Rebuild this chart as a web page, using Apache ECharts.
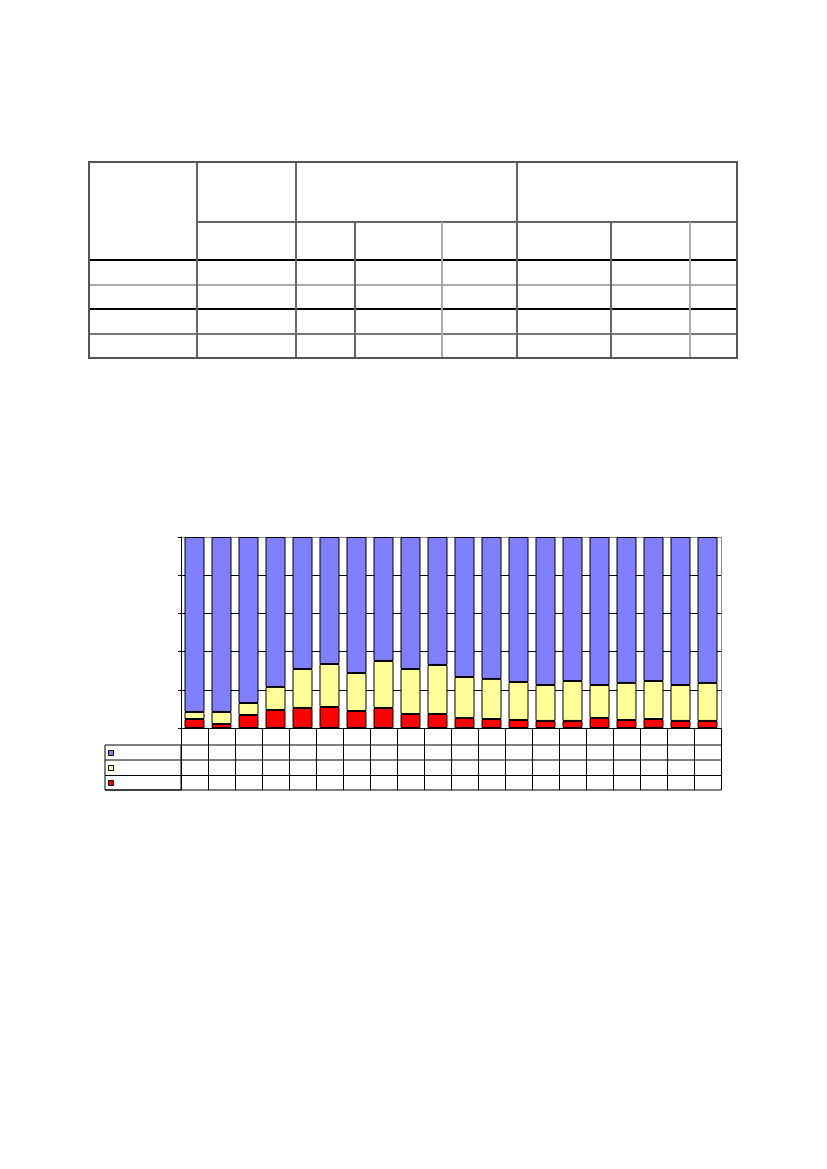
<!DOCTYPE html>
<html>
<head>
<meta charset="utf-8">
<script src="https://cdn.jsdelivr.net/npm/echarts@6/dist/echarts.min.js"></script>
<style>
  html, body { margin: 0; padding: 0; background: #fff; }
  #page { position: relative; width: 827px; height: 1169px; overflow: hidden; }
  #chart { position: absolute; left: 0; top: 0; width: 827px; height: 1169px; }
  .ln { position: absolute; }
</style>
</head>
<body>
<div id="page">
  <div id="chart"></div>
</div>
<script>
// 20 columns, values are percent of total
var categories = ["1", "2", "3", "4", "5", "6", "7", "8", "9", "10",
                  "11", "12", "13", "14", "15", "16", "17", "18", "19", "20"];
var redVals = [4.7, 2.1, 6.8, 9.4, 10.5, 11.0, 8.9, 10.5, 7.3, 7.3,
               5.2, 4.7, 4.2, 3.7, 3.7, 5.2, 4.2, 4.7, 3.7, 3.7];
var yellowVals = [3.7, 6.3, 6.3, 12.1, 20.4, 22.5, 19.9, 24.6, 23.6, 25.7,
                  21.5, 21.0, 19.9, 18.8, 20.9, 17.3, 19.4, 19.9, 18.8, 19.9];
var blueVals = [91.6, 91.6, 86.9, 78.5, 69.1, 66.5, 71.2, 64.9, 69.1, 67.0,
                73.3, 74.3, 75.9, 77.5, 75.4, 77.5, 76.4, 75.4, 77.5, 76.4];
var yTicks = [0, 20, 40, 60, 80, 100];

// empty bordered table at the top of the page
var page = document.getElementById("page");
function hLine(x1, x2, y, color, w) {
  var d = document.createElement("div");
  d.className = "ln";
  d.style.cssText = "left:" + x1 + "px;top:" + (y - w / 2) + "px;width:" + (x2 - x1) +
    "px;height:" + w + "px;background:" + color;
  page.appendChild(d);
}
function vLine(x, y1, y2, color, w) {
  var d = document.createElement("div");
  d.className = "ln";
  d.style.cssText = "left:" + (x - w / 2) + "px;top:" + y1 + "px;width:" + w +
    "px;height:" + (y2 - y1) + "px;background:" + color;
  page.appendChild(d);
}
hLine(89, 737, 222, "#fff", 0);
hLine(197, 737, 222, "#666", 1.5);
hLine(89, 737, 260, "#000", 2);
hLine(89, 737, 285, "#aaa", 1.5);
hLine(89, 737, 309, "#000", 1.5);
hLine(89, 737, 334, "#777", 1.5);
vLine(197, 162, 358, "#666", 1.5);
vLine(296, 162, 358, "#666", 1.5);
vLine(517, 162, 358, "#666", 1.5);
vLine(355, 222, 358, "#666", 1.5);
vLine(442, 222, 358, "#aaa", 1.5);
vLine(611, 222, 358, "#666", 1.5);
vLine(690, 222, 358, "#aaa", 1.5);
hLine(88, 738, 162, "#555", 2);
hLine(88, 738, 358, "#555", 2);
vLine(89, 161, 359, "#555", 2);
vLine(737, 161, 359, "#555", 2);

var chart = echarts.init(document.getElementById("chart"), null, { renderer: "canvas" });

var gridL = 181, gridT = 537, gridW = 540, gridH = 191;
var edge = { color: "#000", width: 1 };

var option = {
  animation: false,
  backgroundColor: "#fff",
  grid: { left: gridL, top: gridT, width: gridW, height: gridH },
  xAxis: {
    type: "category",
    data: categories,
    boundaryGap: true,
    axisLine: { show: true, lineStyle: { color: "#000", width: 1 } },
    // ticks stretched downward to form the columns of the data table
    axisTick: { show: true, alignWithLabel: false, length: 62, inside: false,
                lineStyle: { color: "#000", width: 1 } },
    axisLabel: { show: false }
  },
  yAxis: [{
    type: "value",
    min: 0,
    max: 100,
    interval: 20,
    axisLine: { show: true, lineStyle: { color: "#000", width: 1 } },
    axisTick: { show: true, length: 3, lineStyle: { color: "#000" } },
    axisLabel: { show: false },
    splitLine: { show: true, lineStyle: { color: ["#000", "#000", "#000", "#000", "#000", "#888"], width: 1 } }
  }, {
    type: "value",
    position: "right",
    min: 0,
    max: 100,
    interval: 20,
    axisLine: { show: true, lineStyle: { color: "#888", width: 1 } },
    axisTick: { show: false },
    axisLabel: { show: false },
    splitLine: { show: false }
  }],
  series: [
    { name: "c", type: "bar", stack: "all", data: redVals, barWidth: 20,
      itemStyle: { color: "#ff0000", borderColor: "#000", borderWidth: 1 } },
    { name: "b", type: "bar", stack: "all", data: yellowVals, barWidth: 20,
      itemStyle: { color: "#ffff99", borderColor: "#000", borderWidth: 1 } },
    { name: "a", type: "bar", stack: "all", data: blueVals, barWidth: 20,
      itemStyle: { color: "#8080ff", borderColor: "#000", borderWidth: 1 } }
  ],
  graphic: [
    // data table rows under the plot
    { type: "line", shape: { x1: 181, y1: 745, x2: 721, y2: 745 }, style: { stroke: "#000", lineWidth: 1 } },
    { type: "line", shape: { x1: 105, y1: 760, x2: 721, y2: 760 }, style: { stroke: "#000", lineWidth: 1 } },
    { type: "line", shape: { x1: 105, y1: 775.5, x2: 721, y2: 775.5 }, style: { stroke: "#000", lineWidth: 1 } },
    { type: "line", shape: { x1: 105, y1: 790, x2: 721, y2: 790 }, style: { stroke: "#000", lineWidth: 1 } },
    { type: "rect", shape: { x: 105, y: 745, width: 76, height: 45 }, style: { fill: null, stroke: "#000", lineWidth: 1 } },
    // legend keys
    { type: "rect", shape: { x: 108.5, y: 750.5, width: 5, height: 5 }, style: { fill: "#8080ff", stroke: "#000", lineWidth: 1 } },
    { type: "rect", shape: { x: 108.5, y: 765.5, width: 5, height: 5 }, style: { fill: "#ffff99", stroke: "#000", lineWidth: 1 } },
    { type: "rect", shape: { x: 108.5, y: 780.5, width: 5, height: 5 }, style: { fill: "#ff0000", stroke: "#000", lineWidth: 1 } }
  ]
};

chart.setOption(option);
</script>
</body>
</html>
